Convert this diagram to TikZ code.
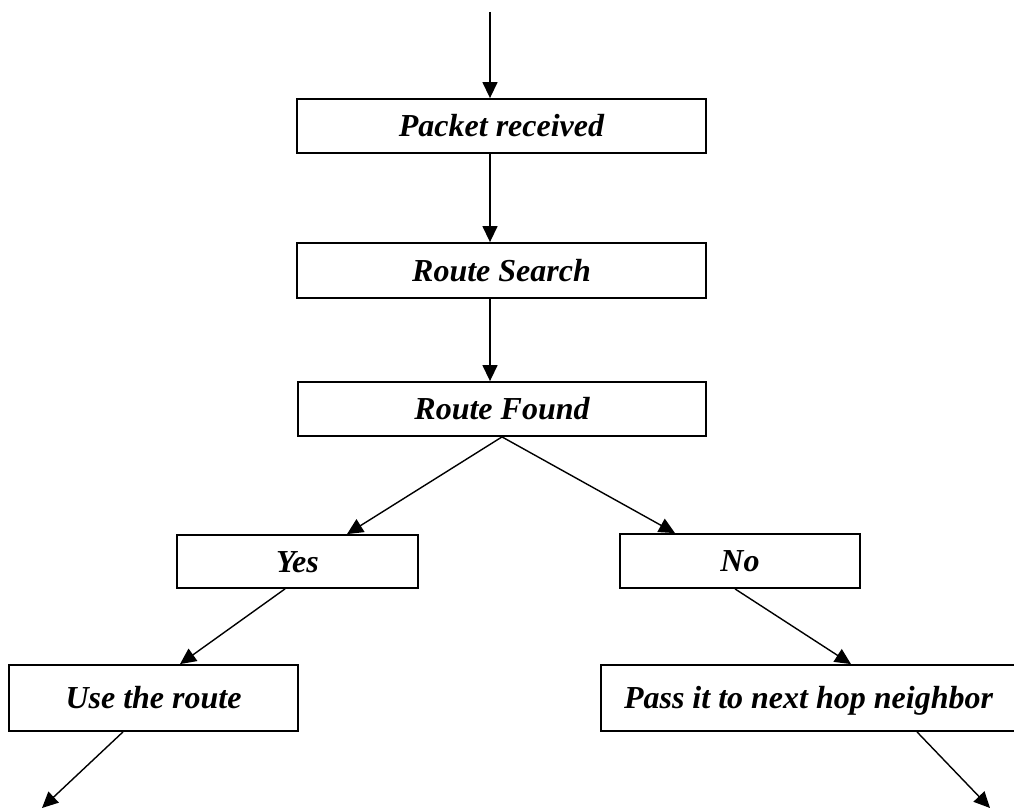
\documentclass[tikz,border=0pt]{standalone}
\usepackage{fontspec}
\setmainfont{Liberation Serif}
\usetikzlibrary{arrows.meta}
\tikzset{
  stepbox/.style={draw, line width=1.8pt, rectangle, inner sep=0pt,
    text height=21pt, text depth=0pt,
    font=\fontsize{32}{38}\selectfont\bfseries\itshape},
  arr/.style={line width=1.4pt, -{Triangle[length=16pt,width=15pt]}},
}
\begin{document}
\begin{tikzpicture}[x=1pt,y=-1pt]
\useasboundingbox (0,0) rectangle (1014,810);

% process boxes
\node[stepbox, minimum width=409pt, minimum height=54pt] (pr)   at (501.5,126)   {Packet received};
\node[stepbox, minimum width=409pt, minimum height=55pt] (rs)   at (501.5,270.5) {Route Search};
\node[stepbox, minimum width=408pt, minimum height=54pt] (rf)   at (502,409)     {Route Found};
\node[stepbox, minimum width=241pt, minimum height=53pt] (yes)  at (297.5,561.5) {Yes};
\node[stepbox, minimum width=240pt, minimum height=54pt] (no)   at (740,561)     {No};
\node[stepbox, minimum width=289pt, minimum height=66pt] (use)  at (153.5,698)   {Use the route};
\node[stepbox, minimum width=415pt, minimum height=66pt] (pass) at (808.5,698)   {Pass it to next hop neighbor};

% free ends
\coordinate (in)   at (490,12);
\coordinate (outl) at (42,808);
\coordinate (outr) at (990,808);

% connectors
\draw[arr] (in) -- ([xshift=-11.5pt]pr.north);
\draw[arr] ([xshift=-11.5pt]pr.south) -- ([xshift=-11.5pt]rs.north);
\draw[arr] ([xshift=-11.5pt]rs.south) -- ([xshift=-12pt]rf.north);
\draw[arr] (rf.south) -- ([xshift=49.5pt]yes.north);
\draw[arr] (rf.south) -- ([xshift=-65pt]no.north);
\draw[arr] ([xshift=-12.5pt]yes.south) -- ([xshift=26.5pt]use.north);
\draw[arr] ([xshift=-5pt]no.south) -- ([xshift=42.5pt]pass.north);
\draw[arr] ([xshift=-30.5pt]use.south) -- (outl);
\draw[arr] ([xshift=108.5pt]pass.south) -- (outr);
\end{tikzpicture}
\end{document}
